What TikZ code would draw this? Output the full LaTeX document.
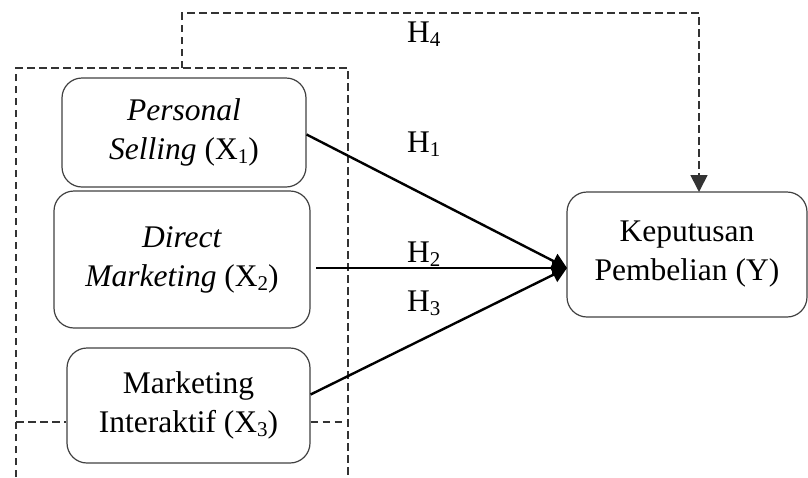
\documentclass[tikz,border=0pt]{standalone}
\usepackage{fontspec}
\setmainfont{Liberation Serif}
\usetikzlibrary{arrows.meta}
\newcommand\subidx[1]{\raisebox{-4pt}{\fontsize{21}{21}\selectfont #1}}
\tikzset{
  txt/.style={font=\fontsize{31.5}{39}\selectfont, text=black},
  var/.style={txt, draw=black!75, line width=1.2pt, rounded corners=20pt, align=center, inner sep=0pt},
  frame/.style={draw=black!80, line width=1.7pt, dash pattern=on 7.5pt off 4.5pt},
  path/.style={draw=black, line width=2.4pt, -{Triangle[length=15pt,width=16pt]}},
  hyp/.style={txt, anchor=base west, inner sep=0pt},
}
\begin{document}
\begin{tikzpicture}[x=1pt,y=-1pt]
\useasboundingbox (0,0) rectangle (808,477);
% boxes
\node[var, minimum width=244pt, minimum height=109pt] (x1) at (184,132.5) {\textit{Personal}\\\textit{Selling} (X\subidx{1})};
\node[var, minimum width=256pt, minimum height=137pt] (x2) at (182,259.5) {\textit{Direct}\\\textit{Marketing} (X\subidx{2})};
\node[var, minimum width=243pt, minimum height=115pt] (x3) at (188.5,405.5) {Marketing\\Interaktif (X\subidx{3})};
\node[var, minimum width=240pt, minimum height=125pt] (y) at (687,254.5) {Keputusan\\Pembelian (Y)};
% coordinates
\coordinate (tip) at (567,268);
\coordinate (s2) at (316,268);
\coordinate (fl) at (16,477);
\coordinate (ftl) at (16,68);
\coordinate (ftr) at (348,68);
\coordinate (fr) at (348,477);
\coordinate (fml) at (16,422);
\coordinate (fmr) at (348,422);
\coordinate (h4a) at (182,68);
\coordinate (h4b) at (182,13);
\coordinate (h4c) at (699,13);
\coordinate (h4d) at (699,192);
% dashed frame
\draw[frame] (fl) -- (ftl) -- (ftr) -- (fr);
\draw[frame] (fml) -- (fml -| x3.west);
\draw[frame] (fmr -| x3.east) -- (fmr);
\draw[frame, -{Triangle[length=17pt,width=17pt]}] (h4a) -- (h4b) -- (h4c) -- (h4d);
% paths
\draw[path] ([yshift=-2pt]x1.east) -- (tip);
\draw[path] (s2) -- (tip);
\draw[path] ([yshift=11pt]x3.east) -- (tip);
% labels
\node[hyp] (h4) at (407,42) {H\subidx{4}};
\node[hyp] (h1) at (407,152) {H\subidx{1}};
\node[hyp] (h2) at (407,262) {H\subidx{2}};
\node[hyp] (h3) at (407,311) {H\subidx{3}};
\end{tikzpicture}
\end{document}
